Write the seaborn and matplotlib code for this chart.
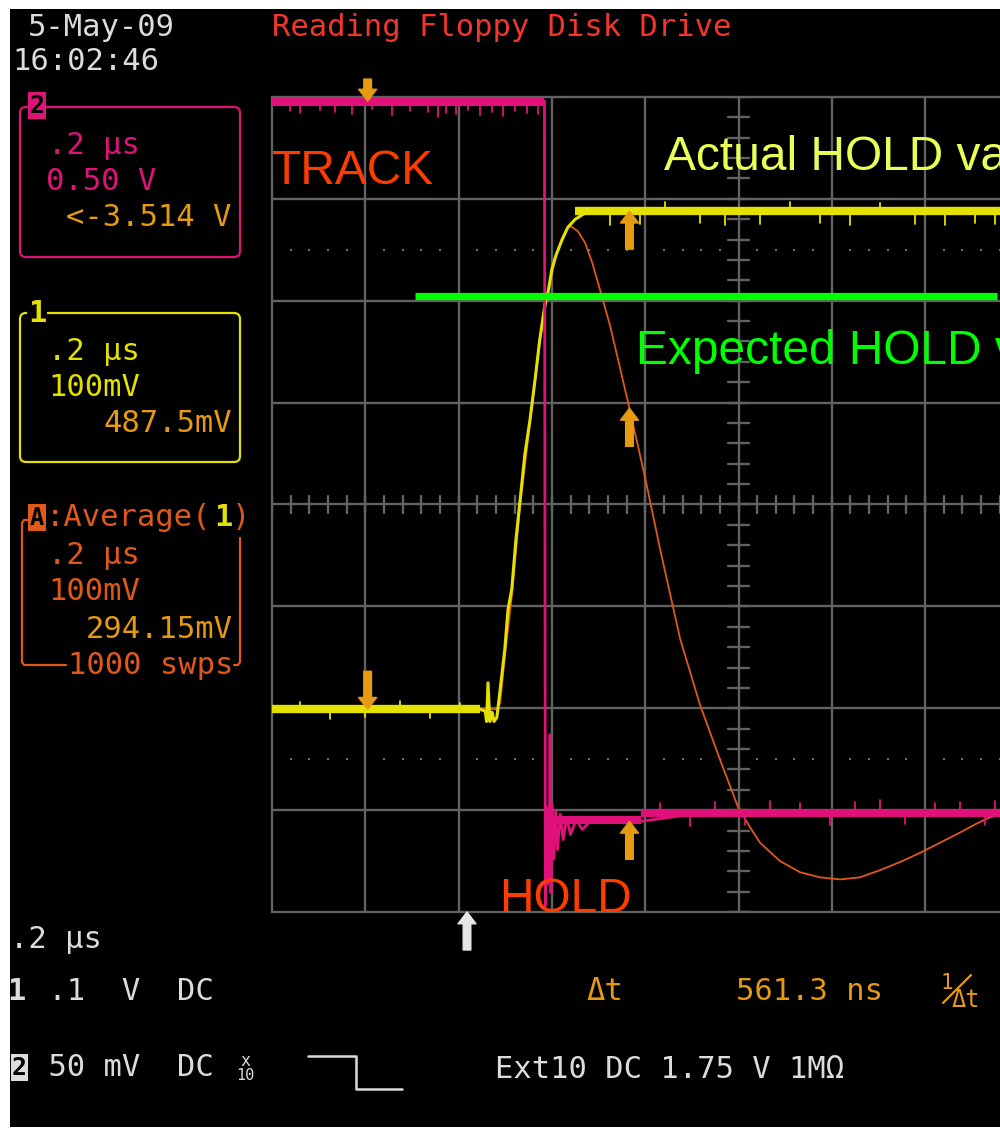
import numpy as np
import pandas as pd
import seaborn as sns
import matplotlib.pyplot as plt
from matplotlib.patches import Rectangle, FancyBboxPatch

# ---------------- captured traces ----------------
# time in ns from the left edge of the screen (200 ns/div), amplitude in divisions
ch1_t = [0, 446, 457, 460, 463, 467, 472, 476, 482, 489, 499, 506, 514, 523, 532,
         542, 553, 564, 574, 585, 592, 600, 609, 622, 634, 650, 671, 703, 1561]
ch1_div = [-2.01, -2.01, -2.03, -2.13, -1.75, -2.13, -2.04, -2.13, -2.09, -1.82,
           -1.42, -1.03, -0.83, -0.34, 0.05, 0.49, 0.83, 1.23, 1.62, 1.96,
           2.09, 2.31, 2.45, 2.60, 2.72, 2.80, 2.86, 2.88, 2.87]

avg_t = [0, 482, 489, 499, 514, 532, 553, 574, 592, 609, 622, 634, 641, 656, 671,
         686, 703, 725, 746, 767, 800, 832, 875, 917, 960, 999, 1025, 1046, 1089,
         1132, 1175, 1218, 1260, 1303, 1346, 1389, 1432, 1475, 1507, 1539, 1561]
avg_div = [-2.01, -2.01, -1.95, -1.50, -0.90, 0.0, 0.80, 1.60, 2.10, 2.45, 2.62,
           2.72, 2.73, 2.68, 2.57, 2.38, 2.11, 1.75, 1.34, 0.93, 0.26, -0.44,
           -1.32, -1.96, -2.50, -2.97, -3.17, -3.32, -3.50, -3.61, -3.66, -3.68,
           -3.66, -3.59, -3.51, -3.42, -3.32, -3.22, -3.14, -3.07, -3.05]

ch2_t = [0, 584, 586, 588, 590, 592, 594, 596, 598, 600, 604, 608, 612, 618, 624,
         632, 640, 652, 665, 682, 790, 917, 1561]
ch2_div = [3.96, 3.96, -3.94, -2.97, -3.73, -3.01, -3.68, -2.26, -3.81, -2.94,
           -3.48, -3.01, -3.39, -3.04, -3.29, -3.07, -3.24, -3.09, -3.19, -3.11,
           -3.11, -3.03, -3.02]

# noise bands on the settled parts: (start ns, end ns, level div)
ch1_bands = [(0, 446, -2.01), (650, 1561, 2.88)]
ch2_bands = [(0, 584, 3.95), (612, 790, -3.10), (790, 1561, -3.03)]

# isolated glitches sticking out of the noise bands
ch1_glitch_t = [60, 124, 199, 274, 339, 403,
                725, 789, 842, 917, 971, 1046, 1110, 1175, 1239, 1303, 1378, 1443, 1507, 1550]
ch1_glitch_div = [-1.94, -2.11, -2.09, -1.93, -2.10, -1.95,
                  2.74, 2.75, 2.97, 2.76, 2.74, 2.75, 2.97, 2.76, 2.74, 2.96, 2.75, 2.74, 2.76, 2.75]
ch2_glitch_t = [39, 60, 103, 135, 171, 214, 257, 296, 334, 356, 373, 394, 420, 446,
                472, 495, 521, 546, 570,
                832, 896, 950, 1014, 1067, 1132, 1196, 1250, 1303, 1357, 1421, 1475, 1529, 1550]
ch2_glitch_div = [3.86, 3.84, 3.87, 3.85, 3.83, 3.88, 3.82, 3.86, 3.85, 3.80, 3.84,
                  3.83, 3.87, 3.82, 3.85, 3.81, 3.86, 3.84, 3.83,
                  -2.93, -3.16, -2.92, -3.15, -2.91, -2.93, -3.15, -2.92, -2.90, -3.14,
                  -2.93, -2.92, -3.15, -2.91]

# cursors / trigger
cursor1_ns = 205.0
delta_t_ns = 561.3
cursor2_ns = cursor1_ns + delta_t_ns
trigger_ns = 418.0

# expected hold level (div) and its extent (ns)
expected_hold_div = 2.05
expected_hold_span = (307, 1554)

# ---------------- colours ----------------
C_BG = "black"
C_GRID = "#626262"
C_MAG = "#e0127a"
C_YEL = "#e4e000"
C_ORG = "#e0581a"
C_GOLD = "#e59a12"
C_WHITE = "#dcdcdc"
C_TITLE = "#f3352b"
C_NOTE = "#ff3c00"
C_ACT = "#eaff55"
C_EXP = "#00ff00"

sns.set_theme(style="dark")
plt.rcParams["font.family"] = ["DejaVu Sans Mono"]

W, H = 1000, 1131
fig = plt.figure(figsize=(W / 100, H / 100), dpi=100, facecolor="white")
fig.patches.append(Rectangle((10 / W, (H - 1127) / H), 990 / W, 1118 / H,
                             transform=fig.transFigure, facecolor=C_BG,
                             edgecolor="none", zorder=-10))

# ---------------- scope graticule ----------------
x0, y0, y1 = 272, 97, 912
ax = fig.add_axes([x0 / W, (H - y1) / H, (W - x0) / W, (y1 - y0) / H])
ax.set_facecolor("none")
px_per_div = 93.3
t_max = (W - x0) / px_per_div * 200
ax.set_xlim(0, t_max)
ax.set_ylim(-4, 4)
for s in ax.spines.values():
    s.set_visible(False)
ax.set_xticks([])
ax.set_yticks([])
ax.grid(False)

glw = 1.7
for k in range(0, 9):
    ax.axvline(k * 200, color=C_GRID, lw=glw, clip_on=False, zorder=1)
for k in range(-4, 5):
    ax.axhline(k, color=C_GRID, lw=glw, clip_on=False, zorder=1, xmax=1.2)

# centre axes with minor tick marks
for k in range(0, int(t_max // 40) + 1):
    ax.plot([k * 40, k * 40], [-0.08, 0.08], color=C_GRID, lw=glw, zorder=1)
for k in range(-20, 21):
    ax.plot([1000 - 22, 1000 + 22], [k * 0.2, k * 0.2], color=C_GRID, lw=glw, zorder=1)

# dotted rows
dot_t = [k * 40 for k in range(0, int(t_max // 40) + 1) if k % 5]
for lvl in (2.5, -2.5):
    ax.scatter(dot_t, [lvl] * len(dot_t), s=3.5, marker="s", color="#707070",
               linewidths=0, zorder=1)

# ---------------- traces ----------------
def trace(t, v, color, lw, z):
    df = pd.DataFrame({"t": t, "v": v})
    sns.lineplot(data=df, x="t", y="v", ax=ax, color=color, lw=lw,
                 estimator=None, sort=False, legend=False, zorder=z)

def bands(spans, glitch_t, glitch_v, color, lw, z):
    for a, b, lvl in spans:
        ax.plot([a, b], [lvl, lvl], color=color, lw=lw, solid_capstyle="butt", zorder=z)
    for t, v in zip(glitch_t, glitch_v):
        lvl = next(l for a, b, l in spans if a <= t <= b)
        ax.plot([t, t], [lvl, v], color=color, lw=1.3, zorder=z)

trace(avg_t, avg_div, C_ORG, 1.3, 3)
bands(ch1_bands, ch1_glitch_t, ch1_glitch_div, C_YEL, 6.0, 4)
trace(ch1_t, ch1_div, C_YEL, 2.2, 4)
bands(ch2_bands, ch2_glitch_t, ch2_glitch_div, C_MAG, 5.8, 5)
trace(ch2_t, ch2_div, C_MAG, 2.0, 5)
ax.set_xlabel("")
ax.set_ylabel("")

# expected hold level
ax.hlines(expected_hold_div, *expected_hold_span, color=C_EXP, lw=5.2, zorder=6)

# cursor markers
def marker(t, v, color, up, length=38):
    ax.annotate("", xy=(t, v), xycoords="data",
                xytext=(0, -length if up else length), textcoords="offset pixels",
                arrowprops=dict(arrowstyle="simple,head_length=0.85,head_width=1.3,tail_width=0.55",
                                color=color, shrinkA=0, shrinkB=0, mutation_scale=10),
                annotation_clip=False, zorder=7)

marker(cursor1_ns, np.interp(cursor1_ns, ch2_t, ch2_div), C_GOLD, up=False, length=22)
marker(cursor1_ns, np.interp(cursor1_ns, ch1_t, ch1_div), C_GOLD, up=False)
marker(cursor2_ns, np.interp(cursor2_ns, ch1_t, ch1_div), C_GOLD, up=True)
marker(cursor2_ns, np.interp(cursor2_ns, avg_t, avg_div), C_GOLD, up=True)
marker(cursor2_ns, np.interp(cursor2_ns, ch2_t, ch2_div), C_GOLD, up=True)
marker(trigger_ns, -4.0, "#e6e6e6", up=True)

# ---------------- screen text and panels ----------------
ov = fig.add_axes([0, 0, 1, 1])
ov.set_xlim(0, W)
ov.set_ylim(H, 0)
ov.axis("off")
ov.set_facecolor("none")

FS = 22
def txt(x, y, s, color, size=FS, **kw):
    ov.text(x, y, s, color=color, fontsize=size, va="center", ha="left", **kw)

txt(28, 27, "5-May-09", C_WHITE)
txt(12, 62, "16:02:46", C_WHITE)
txt(272, 27, "Reading Floppy Disk Drive", C_TITLE)

# channel 2 panel
ov.add_patch(FancyBboxPatch((20, 107), 220, 150, boxstyle="round,pad=0,rounding_size=6",
                            fill=False, edgecolor=C_MAG, lw=1.6))
ov.add_patch(Rectangle((28, 92), 18, 27, facecolor=C_MAG, edgecolor="none"))
ov.text(37, 106, "2", color="black", fontsize=18, fontweight="bold", ha="center", va="center")
txt(48, 146, ".2 µs", C_MAG)
txt(46, 182, "0.50 V", C_MAG)
txt(66, 218, "<-3.514 V", C_GOLD)

# channel 1 panel
ov.add_patch(FancyBboxPatch((20, 313), 220, 149, boxstyle="round,pad=0,rounding_size=6",
                            fill=False, edgecolor=C_YEL, lw=1.6))
ov.add_patch(Rectangle((27, 300), 20, 24, facecolor="black", edgecolor="none"))
ov.text(37, 314, "1", color=C_YEL, fontsize=22, fontweight="bold", ha="center", va="center")
txt(48, 352, ".2 µs", C_YEL)
txt(48, 387, "100mV", C_YEL)
txt(103, 424, "487.5mV", C_GOLD)

# math A panel
ov.plot([28, 24, 22, 22, 24, 66], [520, 520, 523, 662, 665, 665], color=C_ORG, lw=1.6)
ov.plot([240, 240, 238, 234], [538, 662, 665, 665], color=C_ORG, lw=1.6)
ov.add_patch(Rectangle((28, 504), 18, 27, facecolor=C_ORG, edgecolor="none"))
ov.text(37, 518, "A", color="black", fontsize=17, fontweight="bold", ha="center", va="center")
txt(46, 518, ":Average(", C_ORG)
ov.text(223, 518, "1", color=C_YEL, fontsize=22, fontweight="bold", ha="center", va="center")
txt(232, 518, ")", C_ORG)
txt(48, 556, ".2 µs", C_ORG)
txt(48, 592, "100mV", C_ORG)
txt(86, 630, "294.15mV", C_GOLD)
txt(68, 666, "1000 swps", C_ORG)

# bottom status lines
txt(10, 940, ".2 µs", C_WHITE)
ov.text(16, 992, "1", color=C_WHITE, fontsize=22, fontweight="bold", ha="center", va="center")
txt(30, 992, " .1  V  DC", C_WHITE)
ov.add_patch(Rectangle((11, 1054), 17, 27, facecolor=C_WHITE, edgecolor="none"))
ov.text(19.5, 1068, "2", color="black", fontsize=18, fontweight="bold", ha="center", va="center")
txt(30, 1068, " 50 mV  DC", C_WHITE)
ov.text(245, 1061, "x", color=C_WHITE, fontsize=12, ha="center", va="center")
ov.text(245, 1076, "10", color=C_WHITE, fontsize=11, ha="center", va="center")
ov.plot([308, 356, 356, 402], [1056, 1056, 1089, 1089], color=C_WHITE, lw=1.8)
txt(495, 1070, "Ext10 DC 1.75 V 1MΩ", C_WHITE)

txt(586, 992, "Δt", C_GOLD)
txt(736, 992, "561.3 ns", C_GOLD)
ov.text(947, 983, "1", color=C_GOLD, fontsize=15, ha="center", va="center")
ov.plot([943, 971], [1003, 975], color=C_GOLD, lw=1.6)
ov.text(952, 1000, "Δt", color=C_GOLD, fontsize=17, ha="left", va="center")

# slide annotations (the two long labels run off the right edge of the screen)
NOTE = dict(family=["Liberation Sans", "DejaVu Sans"], fontsize=34.5, va="center", ha="left")
ov.text(272, 172, "TRACK", color=C_NOTE, **NOTE)
ov.text(499, 899, "HOLD", color=C_NOTE, **NOTE)
ov.text(664, 157, "Actual HOLD value", color=C_ACT, clip_on=True, **NOTE)
ov.text(636, 352, "Expected HOLD value", color=C_EXP, clip_on=True, **NOTE)

fig.savefig("out.png", dpi=100, facecolor="white")
